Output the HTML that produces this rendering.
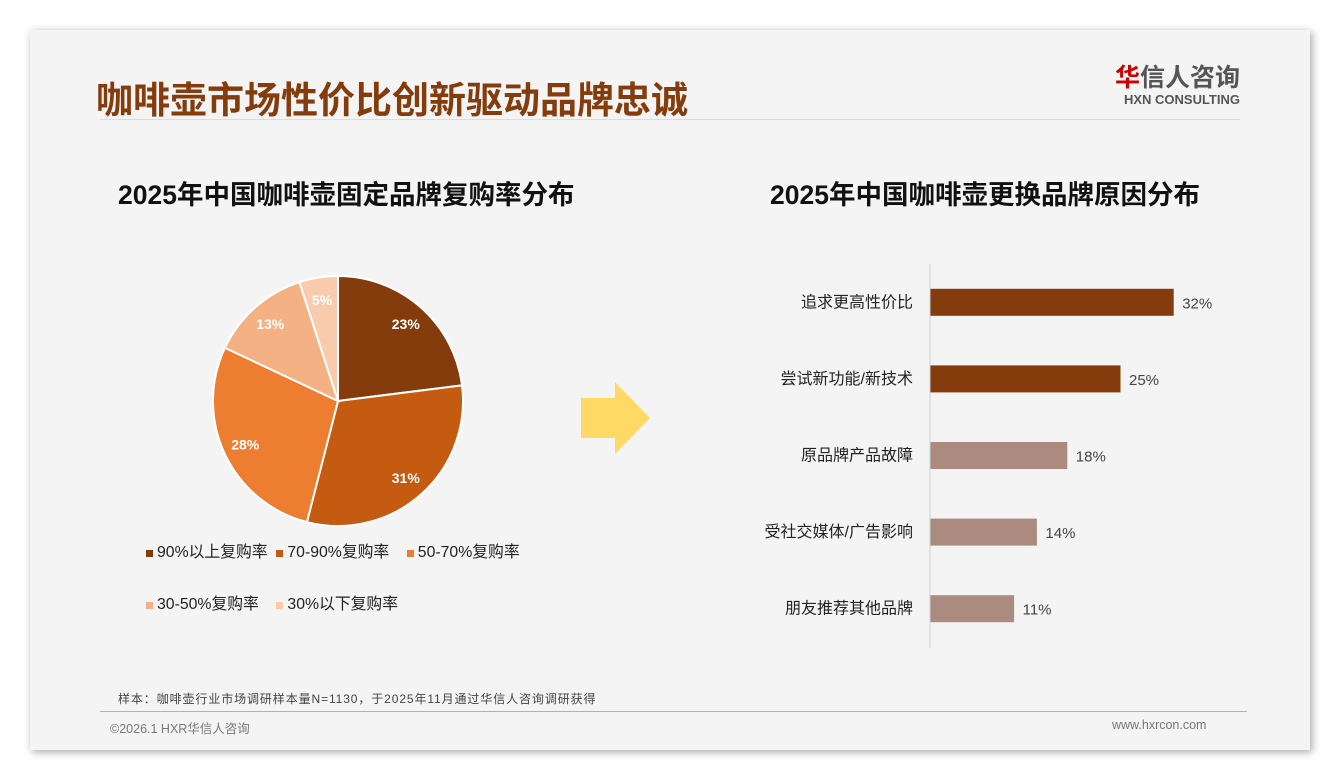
<!DOCTYPE html>
<html><head><meta charset="utf-8"><style>
body{margin:0;width:1340px;height:780px;background:#fff;position:relative;overflow:hidden;font-family:"Liberation Sans","Noto Sans CJK SC",sans-serif}
.card{position:absolute;left:30px;top:30px;width:1280px;height:720px;background:#f4f4f4;box-shadow:2px 2px 8px rgba(0,0,0,.35)}
.abs{position:absolute}
</style></head><body>
<div class="card"></div>
<div class="abs" style="left:96px;top:70px;font-size:37px;font-weight:bold;color:#843c0c">咖啡壶市场性价比创新驱动品牌忠诚</div>
<div class="abs" style="left:100px;top:119px;width:1140px;height:1px;background:#dcdcdc"></div>
<div class="abs" style="left:1100px;top:64px;text-align:right;width:140px">
<div style="font-size:25px;font-weight:bold;color:#555;line-height:28px"><span style="color:#c00">华</span>信人咨询</div>
<div style="font-size:13px;font-weight:bold;color:#555;line-height:16px">HXN CONSULTING</div></div>
<div class="abs" style="left:118px;top:173px;font-size:26.5px;font-weight:bold;color:#111">2025年中国咖啡壶固定品牌复购率分布</div>
<div class="abs" style="left:770px;top:173px;font-size:26.5px;font-weight:bold;color:#111">2025年中国咖啡壶更换品牌原因分布</div>
<svg class="abs" style="left:0;top:0" width="1340" height="780" id="chart">
<polygon points="581,398 615,398 615,382 650,418 615,454 615,438 581,438" fill="#ffd966"/>
</svg>
<div class="abs" style="left:146px;top:543px;font-size:15.8px;color:#222;width:440px;line-height:20px">
<div><span style="display:inline-block;width:7px;height:7px;background:#843c0c;margin-right:4px"></span>90%以上复购率&nbsp;&nbsp;<span style="display:inline-block;width:7px;height:7px;background:#c55a11;margin-right:4px"></span>70-90%复购率&nbsp;&nbsp;&nbsp;&nbsp;<span style="display:inline-block;width:7px;height:7px;background:#ed7d31;margin-right:4px"></span>50-70%复购率</div>
<div style="margin-top:32px"><span style="display:inline-block;width:7px;height:7px;background:#f4b183;margin-right:4px"></span>30-50%复购率&nbsp;&nbsp;&nbsp;&nbsp;<span style="display:inline-block;width:7px;height:7px;background:#f8cbad;margin-right:4px"></span>30%以下复购率</div></div>
<div class="abs" style="left:118px;top:690px;font-size:12px;letter-spacing:0.9px;color:#444">样本：咖啡壶行业市场调研样本量N=1130，于2025年11月通过华信人咨询调研获得</div>
<div class="abs" style="left:100px;top:711px;width:1147px;height:1px;background:#c9a99a"></div>
<div class="abs" style="left:110px;top:718px;font-size:12.5px;color:#777">©2026.1 HXR华信人咨询</div>
<div class="abs" style="left:1112px;top:718px;font-size:12.5px;color:#777">www.hxrcon.com</div>
<script>
const pieLabels=['90%以上复购率','70-90%复购率','50-70%复购率','30-50%复购率','30%以下复购率'];
const pieValues=[23,31,28,13,5];
const barCategories=['追求更高性价比','尝试新功能/新技术','原品牌产品故障','受社交媒体/广告影响','朋友推荐其他品牌'];
const barValues=[32,25,18,14,11];
const NS='http://www.w3.org/2000/svg';
const svg=document.getElementById('chart');
function mk(t,a){const e=document.createElementNS(NS,t);for(const k in a)e.setAttribute(k,a[k]);svg.appendChild(e);return e;}
const pieColors=['#843c0c','#c55a11','#ed7d31','#f4b183','#f8cbad'];
const cx=338,cy=401,r=125;
const tot=pieValues.reduce((a,b)=>a+b,0);
let ang=0;
pieValues.forEach((v,i)=>{
  const a0=ang,a1=ang+v/tot*2*Math.PI;ang=a1;
  const p=a=>[cx+r*Math.sin(a),cy-r*Math.cos(a)];
  const [x0,y0]=p(a0),[x1,y1]=p(a1);
  const s=mk('path',{d:`M${cx},${cy}L${x0},${y0}A${r},${r} 0 ${a1-a0>Math.PI?1:0} 1 ${x1},${y1}Z`,fill:pieColors[i],stroke:'#fff','stroke-width':2});
  
  
  const m=(a0+a1)/2,lr=r*0.82;
  const t=mk('text',{x:cx+lr*Math.sin(m),y:cy-lr*Math.cos(m)+5,'text-anchor':'middle','font-size':14,'font-weight':'bold',fill:'#fff'});
  t.textContent=v+'%';
  
  
});
const bx0=930,bscale=7.6,btop=264,band=76.6,bh=27;
const ax=mk('line',{x1:bx0,y1:btop,x2:bx0,y2:648,stroke:'#d0d0d0','stroke-width':1});


barCategories.forEach((c,i)=>{
  const yc=btop+band*(i+0.5);
  const b=mk('rect',{x:bx0+0.5,y:yc-bh/2,width:barValues[i]*bscale,height:bh,fill:i<2?'#843c0c':'#ab8b80'});
  
  
  const t=mk('text',{x:bx0-17,y:yc+5,'text-anchor':'end','font-size':16,fill:'#222'});
  t.textContent=c;
  
  
  const v=mk('text',{x:bx0+barValues[i]*bscale+9,y:yc+6,'font-size':15,fill:'#444'});
  v.textContent=barValues[i]+'%';
  
  
});
</script>
</body></html>
